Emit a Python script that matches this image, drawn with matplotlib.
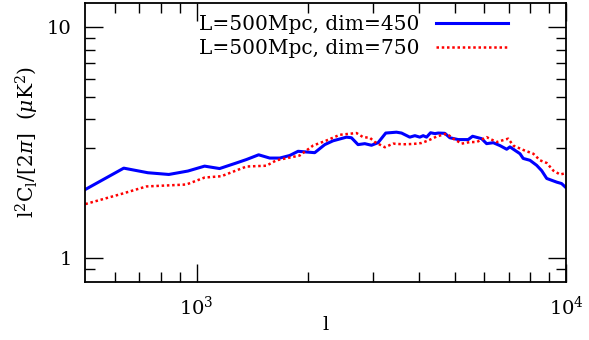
import matplotlib
matplotlib.use("Agg")
import matplotlib.pyplot as plt
from matplotlib.ticker import FixedLocator, NullFormatter

plt.rcParams['font.family'] = ['DejaVu Serif']
plt.rcParams['mathtext.fontset'] = 'dejavuserif'

# Series: dim=450 (blue solid)
l_450 = [500, 635, 738, 841, 947, 1051, 1154, 1281, 1364, 1472, 1577, 1679, 1786,
         1882, 2088, 2223, 2340, 2545, 2625, 2735, 2852, 2974, 3099, 3251, 3475,
         3587, 3776, 3898, 4021, 4105, 4193, 4298, 4416, 4508, 4699, 4848, 5107,
         5434, 5585, 5908, 6096, 6353, 6624, 6908, 7049, 7506, 7656, 7987, 8328,
         8590, 8866, 9436, 9727, 9981]
c_450 = [1.99, 2.46, 2.35, 2.31, 2.39, 2.51, 2.45, 2.59, 2.68, 2.81, 2.72, 2.72, 2.79,
         2.91, 2.87, 3.11, 3.23, 3.35, 3.33, 3.11, 3.14, 3.09, 3.17, 3.49, 3.52,
         3.49, 3.35, 3.40, 3.35, 3.40, 3.35, 3.50, 3.47, 3.49, 3.48, 3.33, 3.27,
         3.27, 3.38, 3.30, 3.14, 3.17, 3.08, 2.97, 3.04, 2.84, 2.71, 2.66, 2.53,
         2.40, 2.22, 2.14, 2.11, 2.03]

# Series: dim=750 (red dotted)
l_750 = [500, 631, 731, 938, 1051, 1167, 1364, 1545, 1644, 1901, 2066, 2246, 2441,
         2709, 2823, 2944, 3037, 3232, 3404, 3623, 3856, 4061, 4236, 4463, 4751,
         4951, 5217, 5495, 5728, 6096, 6487, 6976, 7198, 7656, 8155, 8503, 8866,
         9239, 9632, 10000]
c_750 = [1.72, 1.91, 2.05, 2.09, 2.24, 2.27, 2.50, 2.52, 2.66, 2.79, 3.08, 3.24, 3.43,
         3.49, 3.35, 3.33, 3.19, 3.03, 3.14, 3.12, 3.13, 3.16, 3.24, 3.37, 3.47,
         3.30, 3.14, 3.19, 3.19, 3.35, 3.19, 3.30, 3.08, 2.95, 2.84, 2.66, 2.59,
         2.40, 2.31, 2.34]

labels = ['L=500Mpc, dim=450', 'L=500Mpc, dim=750']

fig = plt.figure(figsize=(5.89, 3.40), dpi=100)
ax = fig.add_axes([0.145, 0.172, 0.816, 0.818])

ax.plot(l_450, c_450, color='#0000ff', lw=2.2, solid_joinstyle='round', label=labels[0])
ax.plot(l_750, c_750, color='#ff0000', lw=1.8, linestyle=(0, (1, 1.1)), label=labels[1])

ax.set_xscale('log')
ax.set_yscale('log')
ax.set_xlim(500, 10000)
ax.set_ylim(0.795, 12.7)

ax.xaxis.set_major_locator(FixedLocator([1000, 10000]))
ax.xaxis.set_minor_locator(FixedLocator([600, 700, 800, 900, 2000, 3000, 4000,
                                         5000, 6000, 7000, 8000, 9000]))
ax.set_xticklabels([r'$10^3$', r'$10^4$'])
ax.xaxis.set_minor_formatter(NullFormatter())

ax.yaxis.set_major_locator(FixedLocator([1, 10]))
ax.yaxis.set_minor_locator(FixedLocator([0.9, 3, 4, 5, 6, 7, 8, 9]))
ax.set_yticklabels(['1', '10'])
ax.yaxis.set_minor_formatter(NullFormatter())

ax.tick_params(which='both', direction='in', top=True, right=True, labelsize=14, width=1.0)
ax.tick_params(which='major', length=13, pad=10)
ax.tick_params(which='minor', length=7)
for s in ax.spines.values():
    s.set_linewidth(1.3)

ax.set_xlabel('l', fontsize=14, labelpad=-2)
ax.set_ylabel(r'l$^2$C$_{\rm l}$/[2$\pi$]  ($\mu$K$^2$)', fontsize=14.5, labelpad=4)

leg = ax.legend(loc='upper right', bbox_to_anchor=(0.905, 1.0), frameon=False,
                prop={'size': 14.5}, markerfirst=False, handlelength=3.6, handletextpad=0.8,
                labelspacing=0.22, borderaxespad=0.2)

fig.savefig('out.png', dpi=100)
